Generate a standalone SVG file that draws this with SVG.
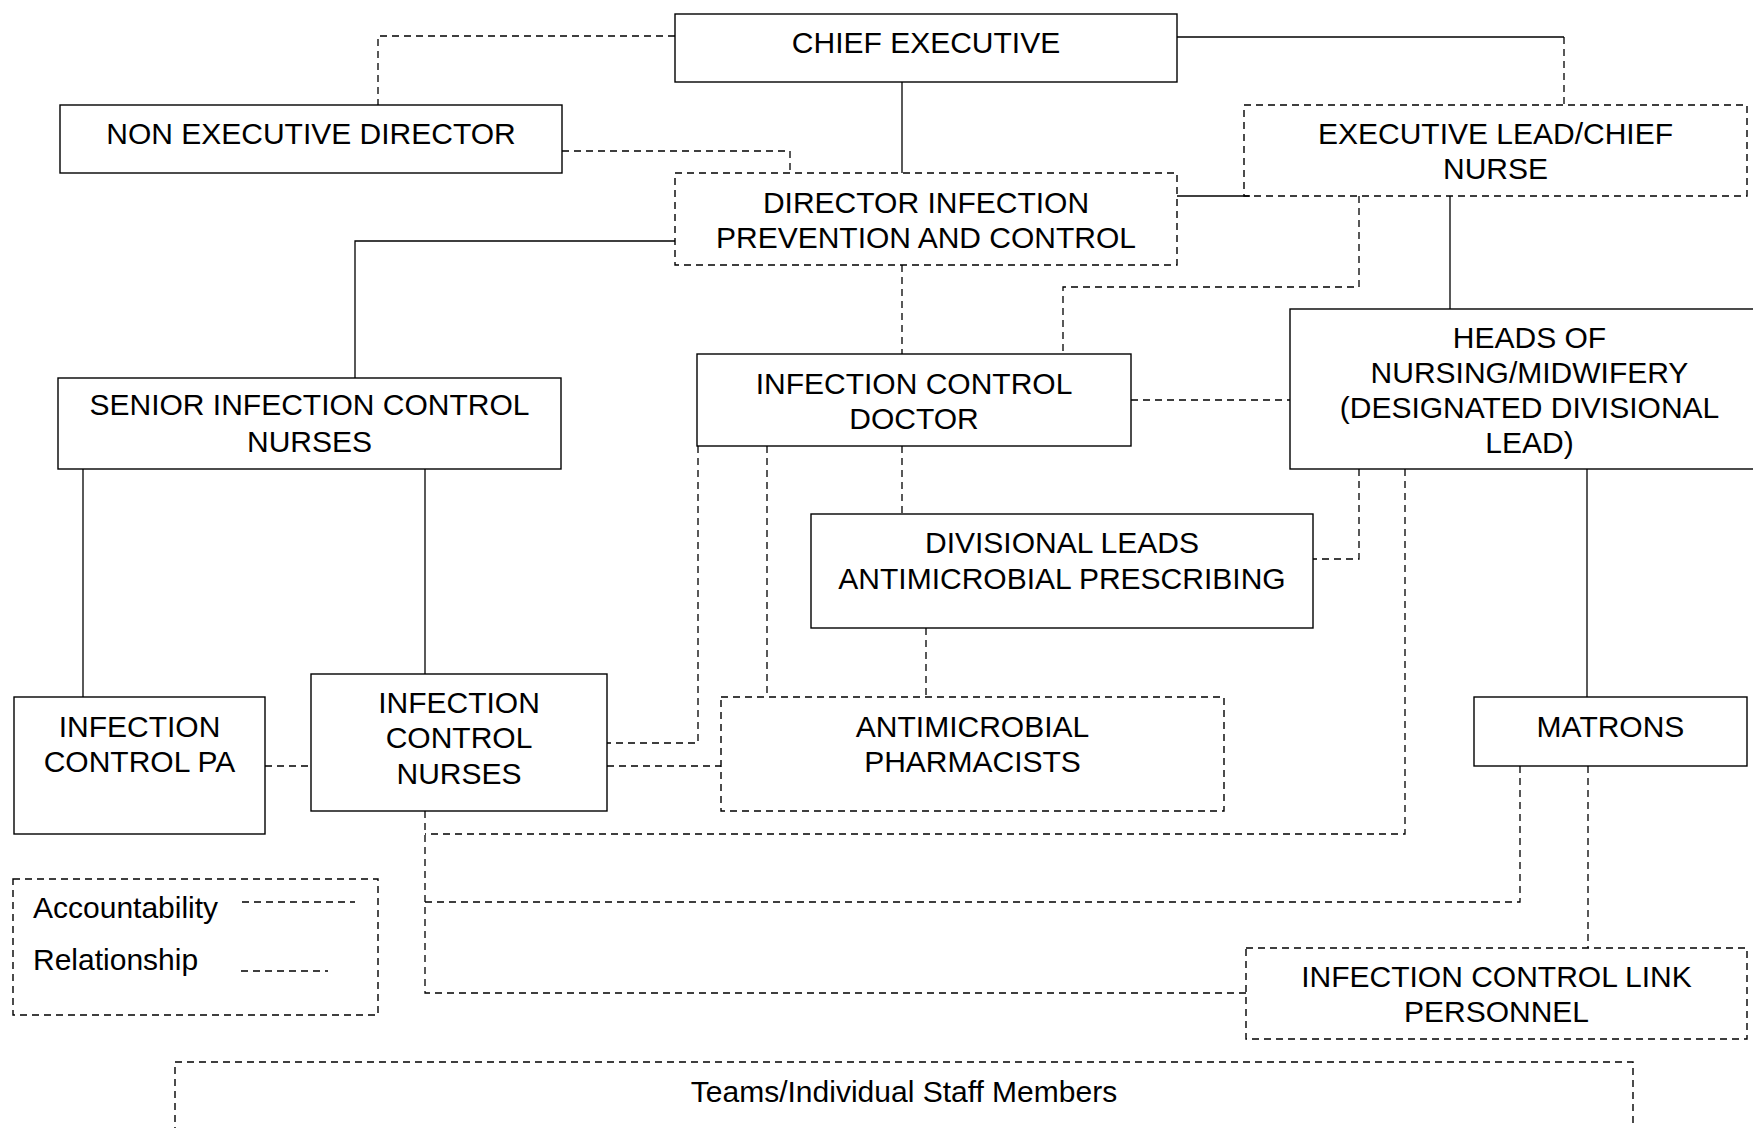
<svg xmlns="http://www.w3.org/2000/svg" width="1753" height="1128" viewBox="0 0 1753 1128">
<style>
.box{fill:#fff;stroke:#000;stroke-width:1.4}
.dbox{fill:#fff;stroke:#000;stroke-width:1.4;stroke-dasharray:7 5}
.solid{fill:none;stroke:#000;stroke-width:1.3}
.dash{fill:none;stroke:#000;stroke-width:1.3;stroke-dasharray:7 5}
text{font-family:"Liberation Sans",Arial,sans-serif;font-size:30px;text-anchor:middle;fill:#000}
.lg{text-anchor:start}
</style>
<rect width="1753" height="1128" fill="#fff"/>
<g id="chief-executive"><rect class="box" x="675" y="14" width="502" height="68"/><text x="926" y="53">CHIEF EXECUTIVE</text></g>
<g id="non-executive-director"><rect class="box" x="60" y="105" width="502" height="68"/><text x="311" y="144">NON EXECUTIVE DIRECTOR</text></g>
<g id="director-ipc"><rect class="dbox" x="675" y="173" width="502" height="92"/><text x="926" y="213">DIRECTOR INFECTION</text><text x="926" y="248">PREVENTION AND CONTROL</text></g>
<g id="executive-lead"><rect class="dbox" x="1244" y="105" width="503" height="91"/><text x="1495.5" y="144">EXECUTIVE LEAD/CHIEF</text><text x="1495.5" y="179">NURSE</text></g>
<g id="infection-control-doctor"><rect class="box" x="697" y="354" width="434" height="92"/><text x="914" y="394">INFECTION CONTROL</text><text x="914" y="429">DOCTOR</text></g>
<g id="heads-of-nursing"><rect class="box" x="1290" y="309" width="479" height="160"/><text x="1529.5" y="348">HEADS OF</text><text x="1529.5" y="383">NURSING/MIDWIFERY</text><text x="1529.5" y="418">(DESIGNATED DIVISIONAL</text><text x="1529.5" y="453">LEAD)</text></g>
<g id="senior-icn"><rect class="box" x="58" y="378" width="503" height="91"/><text x="309.5" y="415">SENIOR INFECTION CONTROL</text><text x="309.5" y="452">NURSES</text></g>
<g id="divisional-leads"><rect class="box" x="811" y="514" width="502" height="114"/><text x="1062" y="553">DIVISIONAL LEADS</text><text x="1062" y="589">ANTIMICROBIAL PRESCRIBING</text></g>
<g id="infection-control-pa"><rect class="box" x="14" y="697" width="251" height="137"/><text x="139.5" y="737">INFECTION</text><text x="139.5" y="772">CONTROL PA</text></g>
<g id="infection-control-nurses"><rect class="box" x="311" y="674" width="296" height="137"/><text x="459" y="713">INFECTION</text><text x="459" y="748">CONTROL</text><text x="459" y="784">NURSES</text></g>
<g id="antimicrobial-pharmacists"><rect class="dbox" x="721" y="697" width="503" height="114"/><text x="972.5" y="737">ANTIMICROBIAL</text><text x="972.5" y="772">PHARMACISTS</text></g>
<g id="matrons"><rect class="box" x="1474" y="697" width="273" height="69"/><text x="1610.5" y="737">MATRONS</text></g>
<g id="link-personnel"><rect class="dbox" x="1246" y="948" width="501" height="91"/><text x="1496.5" y="987">INFECTION CONTROL LINK</text><text x="1496.5" y="1022">PERSONNEL</text></g>
<g id="legend"><rect class="dbox" x="13" y="879" width="365" height="136"/><text class="lg" x="33" y="918">Accountability</text><text class="lg" x="33" y="970">Relationship</text><path class="dash" d="M242,902 H355"/><path class="dash" d="M241,971 H328"/></g>
<g id="teams"><rect class="dbox" x="175" y="1062" width="1458" height="120"/><text x="904" y="1102">Teams/Individual Staff Members</text></g>
<g id="connectors">
<path class="dash" d="M675,36 H378 V105"/>
<path class="dash" d="M562,151 H790 V173"/>
<path class="solid" d="M902,82 V173"/>
<path class="solid" d="M1177,37 H1564"/>
<path class="dash" d="M1564,37 V105"/>
<path class="solid" d="M1177,196 H1250"/>
<path class="solid" d="M675,241 H355 V378"/>
<path class="dash" d="M902,265 V354"/>
<path class="dash" d="M1359,196 V287 H1063 V354"/>
<path class="solid" d="M1450,196 V309"/>
<path class="dash" d="M1131,400 H1290"/>
<path class="solid" d="M83,469 V697"/>
<path class="solid" d="M425,469 V674"/>
<path class="dash" d="M902,446 V514"/>
<path class="dash" d="M1359,469 V559 H1313"/>
<path class="dash" d="M1405,469 V834 H425"/>
<path class="solid" d="M1587,469 V697"/>
<path class="dash" d="M926,628 V697"/>
<path class="dash" d="M698,446 V743 H607"/>
<path class="dash" d="M767,446 V697"/>
<path class="dash" d="M607,766 H721"/>
<path class="dash" d="M265,766 H311"/>
<path class="dash" d="M425,811 V993 H1246"/>
<path class="dash" d="M1520,766 V902 H425"/>
<path class="dash" d="M1588,766 V948"/>
</g>
</svg>
